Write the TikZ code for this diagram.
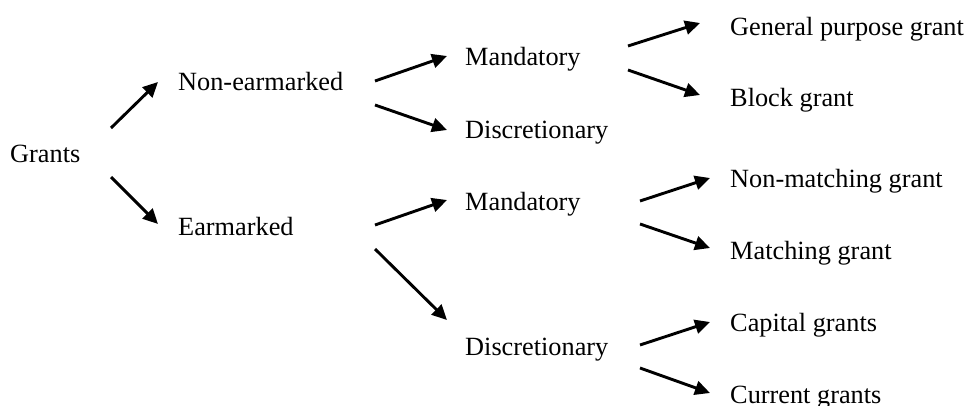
\documentclass[tikz,border=0pt]{standalone}
\usepackage{fontspec}
\setmainfont{Liberation Serif}
\usetikzlibrary{arrows.meta}
\begin{document}
\begin{tikzpicture}[x=1pt,y=-1pt,
  lbl/.style={anchor=base west,inner sep=0pt,font=\fontsize{26.3}{30}\selectfont},
  arr/.style={line width=2.9pt,-{Triangle[length=15pt,width=14pt]}}]
\useasboundingbox (0,0) rectangle (968,406);
\node[lbl] (g)  at (10,163) {Grants};
\node[lbl] (ne) at (178,91) {Non-earmarked};
\node[lbl] (ea) at (178,235) {Earmarked};
\node[lbl] (m1) at (465,66) {Mandatory};
\node[lbl] (d1) at (465,139) {Discretionary};
\node[lbl] (m2) at (465,210) {Mandatory};
\node[lbl] (d2) at (465,355) {Discretionary};
\node[lbl] (gp) at (730,36) {General purpose grant};
\node[lbl] (bl) at (730,107) {Block grant};
\node[lbl] (nm) at (730,187) {Non-matching grant};
\node[lbl] (ma) at (730,259) {Matching grant};
\node[lbl] (ca) at (730,331) {Capital grants};
\node[lbl] (cu) at (730,403) {Current grants};
\draw[arr] ([shift={(101,-35)}]g.base west) -- ([shift={(-20,-9)}]ne.base west);
\draw[arr] ([shift={(101,14)}]g.base west) -- ([shift={(-20,-11)}]ea.base west);
\draw[arr] ([shift={(197,-10)}]ne.base west) -- ([shift={(-18,-10)}]m1.base west);
\draw[arr] ([shift={(197,14)}]ne.base west) -- ([shift={(-18,-9)}]d1.base west);
\draw[arr] ([shift={(197,-10)}]ea.base west) -- ([shift={(-18,-10)}]m2.base west);
\draw[arr] ([shift={(197,14)}]ea.base west) -- ([shift={(-18,-35)}]d2.base west);
\draw[arr] ([shift={(163,-20)}]m1.base west) -- ([shift={(-30,-13)}]gp.base west);
\draw[arr] ([shift={(163,4)}]m1.base west) -- ([shift={(-30,-12)}]bl.base west);
\draw[arr] ([shift={(175,-9)}]m2.base west) -- ([shift={(-20,-9)}]nm.base west);
\draw[arr] ([shift={(175,14)}]m2.base west) -- ([shift={(-20,-11)}]ma.base west);
\draw[arr] ([shift={(175,-10)}]d2.base west) -- ([shift={(-20,-9)}]ca.base west);
\draw[arr] ([shift={(175,13)}]d2.base west) -- ([shift={(-20,-10)}]cu.base west);
\end{tikzpicture}
\end{document}
